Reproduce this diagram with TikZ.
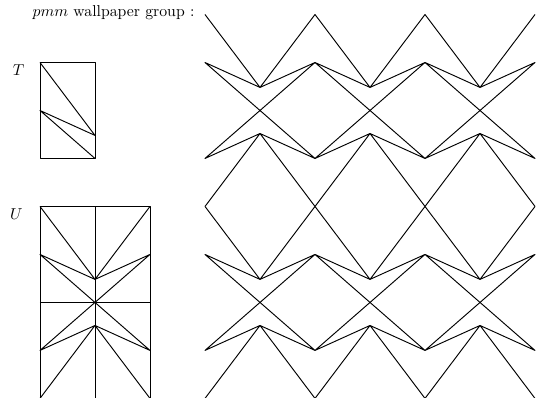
\documentclass[tikz,border=0pt]{standalone}
\usepackage{tikz}
\usetikzlibrary{positioning}
\newcommand{\ylow}{0.24}

\begin{document}
\begin{tikzpicture}[x=34.9pt, y=60.9pt, line join=round,
    edge/.style={semithick},
    lbl/.style={anchor=north east,inner sep=0pt},
    motif/.pic={\draw[edge] (-1,1) -- (0,\ylow) -- (-1,0.5) -- (0,0);},
    ucell/.pic={
      \foreach \sx in {1,-1}
        \foreach \sy in {1,-1}
          \draw[edge,xscale=\sx,yscale=\sy] (-1,1) -- (0,\ylow) -- (-1,0.5) -- (0,0);
    }]
    \useasboundingbox (-0.727,0.006) rectangle (9.036,4.151);
    \node[anchor=base west,inner sep=0pt] (title) at (-0.14,3.984) {$pmm$ wallpaper group :};
    % fundamental tile
    \node[lbl] (tlabel) at (-0.28,3.482) {$T$};
    \draw[edge] (0,2.5) rectangle (1,3.5);
    \pic at (1,2.5) {motif};
    % unit cell
    \node[lbl] (ulabel) at (-0.31,1.979) {$U$};
    \draw[edge] (0,0) rectangle (2,2) (1,0) -- (1,2) (0,1) -- (2,1);
    \pic at (1,1) {ucell};
    % wallpaper
    \foreach \i in {0,1,2}
      \foreach \j in {0,1}
        \pic at (4+2*\i,1+2*\j) {ucell};
  \end{tikzpicture}
\end{document}
